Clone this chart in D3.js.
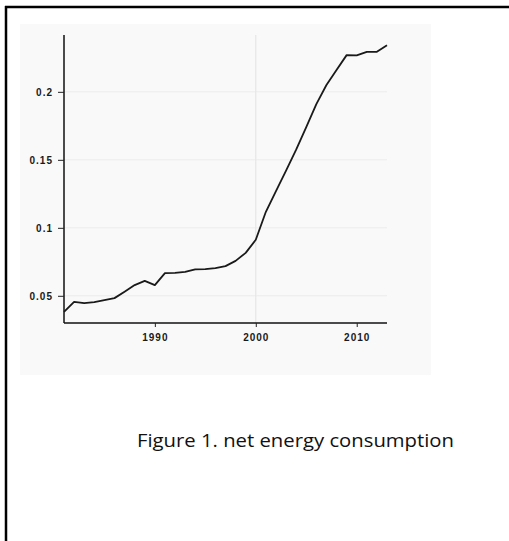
<!DOCTYPE html>
<html>
<head>
<meta charset="utf-8">
<script src="https://cdn.jsdelivr.net/npm/d3@7"></script>
<style>
  html, body { margin: 0; padding: 0; background: #ffffff; }
  svg { display: block; }
</style>
</head>
<body>
<svg id="page" width="509" height="541"></svg>
<script>
// Net energy consumption, yearly
const years = [1981, 1982, 1983, 1984, 1985, 1986, 1987, 1988, 1989, 1990,
               1991, 1992, 1993, 1994, 1995, 1996, 1997, 1998, 1999, 2000,
               2001, 2002, 2003, 2004, 2005, 2006, 2007, 2008, 2009, 2010,
               2011, 2012, 2013];
const consumption = [0.0382, 0.0456, 0.0446, 0.0454, 0.0468, 0.0483, 0.0530, 0.0579, 0.0610, 0.0579,
                     0.0667, 0.0669, 0.0676, 0.0694, 0.0696, 0.0704, 0.0718, 0.0757, 0.0816, 0.0912,
                     0.1118, 0.1270, 0.1420, 0.1575, 0.1740, 0.1910, 0.2050, 0.2160, 0.2270, 0.2268,
                     0.2294, 0.2294, 0.2343];
const xTicks = [1990, 2000, 2010];
const xGrid = [2000];
const yTicks = [0.05, 0.1, 0.15, 0.2];
const yTickLabels = ["0.05", "0.1", "0.15", "0.2"];
const caption = "Figure 1. net energy consumption";

const svg = d3.select("#page");

// page frame (top and left rules)
svg.append("line").attr("x1", 5).attr("x2", 509).attr("y1", 7).attr("y2", 7)
  .attr("stroke", "#000").attr("stroke-width", 2.5);
svg.append("line").attr("x1", 6).attr("x2", 6).attr("y1", 6).attr("y2", 541)
  .attr("stroke", "#000").attr("stroke-width", 2.5);

// chart panel background
svg.append("rect").attr("x", 20).attr("y", 24).attr("width", 411).attr("height", 351)
  .attr("fill", "#f9f9f9");

const plot = { left: 64, right: 387, top: 35, bottom: 323 };

const x = d3.scaleLinear().domain([1981, 2013]).range([plot.left, plot.right]);
const y = d3.scaleLinear().domain([0.03, 0.2418]).range([plot.bottom, plot.top]);

const g = svg.append("g");

// grid lines
g.append("g").selectAll("line").data(yTicks).join("line")
  .attr("x1", plot.left).attr("x2", plot.right)
  .attr("y1", d => y(d)).attr("y2", d => y(d))
  .attr("stroke", "#ececec").attr("stroke-width", 1);
g.append("g").selectAll("line").data(xGrid).join("line")
  .attr("x1", d => x(d)).attr("x2", d => x(d))
  .attr("y1", plot.top).attr("y2", plot.bottom)
  .attr("stroke", "#e6e6e6").attr("stroke-width", 1.2);

// axes
const tickFont = "'Liberation Sans', Arial, sans-serif";
const yAxis = d3.axisLeft(y).tickValues(yTicks)
  .tickFormat((d, i) => yTickLabels[i]).tickSize(6).tickPadding(5);
const xAxis = d3.axisBottom(x).tickValues(xTicks)
  .tickFormat(d3.format("d")).tickSize(4).tickPadding(7);

const ya = g.append("g").attr("transform", `translate(${plot.left},0)`).call(yAxis);
const xa = g.append("g").attr("transform", `translate(0,${plot.bottom})`).call(xAxis);

[ya, xa].forEach(a => {
  a.select(".domain").attr("stroke", "#111").attr("stroke-width", 1.5);
  a.selectAll(".tick line").attr("stroke", "#222").attr("stroke-width", 1);
  a.selectAll(".tick text")
    .attr("fill", "#1a1a1a")
    .style("font-family", tickFont)
    .style("font-size", "10px")
    .style("font-weight", "bold")
    .style("letter-spacing", "1px");
});
// keep the axis domains free of end caps
ya.select(".domain").attr("d", `M0,${plot.top}V${plot.bottom}`);
xa.select(".domain").attr("d", `M${plot.left},0H${plot.right}`);

// data line
const line = d3.line()
  .x((d, i) => x(years[i]))
  .y(d => y(d));
g.append("path")
  .datum(consumption)
  .attr("d", line)
  .attr("fill", "none")
  .attr("stroke", "#1a1a1a")
  .attr("stroke-width", 1.8)
  .attr("stroke-linejoin", "round");

// caption
svg.append("text")
  .attr("x", 137).attr("y", 447)
  .attr("textLength", 317).attr("lengthAdjust", "spacingAndGlyphs")
  .style("font-family", "'Open Sans', 'Noto Sans', sans-serif")
  .style("font-size", "19px")
  .attr("fill", "#111")
  .text(caption);
</script>
</body>
</html>
